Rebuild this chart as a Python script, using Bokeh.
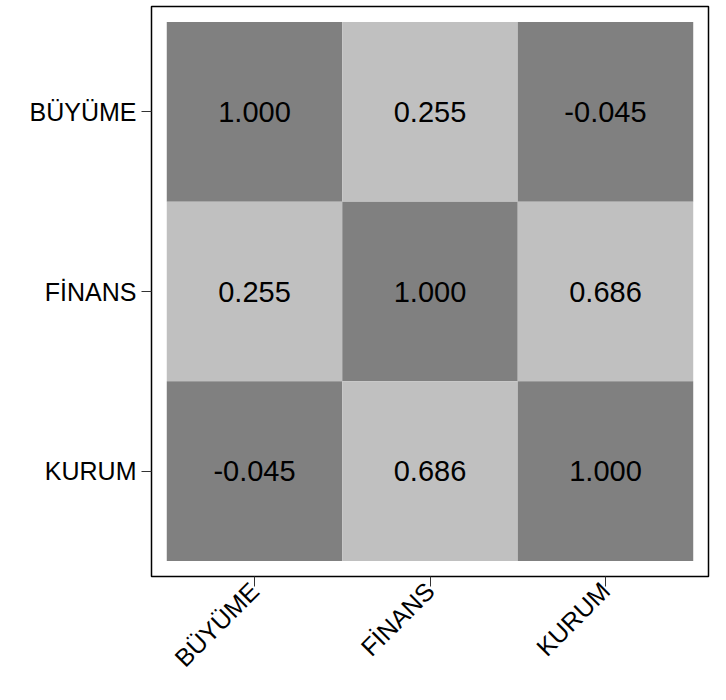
import math
from bokeh.plotting import figure
from bokeh.models import ColumnDataSource, FactorRange
from bokeh.core.properties import value
from bokeh.embed import file_html
from bokeh.resources import INLINE

# ---- data ----
variables = ["BÜYÜME", "FİNANS", "KURUM"]
row_buyume = [1.000, 0.255, -0.045]
row_finans = [0.255, 1.000, 0.686]
row_kurum = [-0.045, 0.686, 1.000]
matrix = [row_buyume, row_finans, row_kurum]

dark = "#808080"
light = "#C0C0C0"

xs, ys, vals, labels, colors = [], [], [], [], []
for i, rname in enumerate(variables):
    for j, cname in enumerate(variables):
        v = matrix[i][j]
        xs.append(cname)
        ys.append(rname)
        vals.append(v)
        labels.append(f"{v:.3f}")
        colors.append(dark if (v < 0 or v >= 1) else light)

src = ColumnDataSource(dict(x=xs, y=ys, v=vals, label=labels, color=colors))

font = "Liberation Sans"

p = figure(
    width=710, height=684,
    x_range=FactorRange(factors=variables, range_padding=0.058),
    y_range=FactorRange(factors=list(reversed(variables)), range_padding=0.058),
    output_backend="svg", toolbar_location=None,
    min_border_left=151, min_border_top=6, min_border_right=2, min_border_bottom=80,
)

p.rect(x="x", y="y", width=1, height=1, source=src,
       fill_color="color", line_color=None)

p.text(x="x", y="y", text="label", source=src,
       text_align="center", text_baseline="middle",
       text_font=value(font), text_font_size="29px", text_color="black")

p.grid.visible = False
p.outline_line_color = "black"
p.outline_line_width = 1.5
p.background_fill_color = "white"
p.border_fill_color = "white"

for ax in (p.xaxis[0], p.yaxis[0]):
    ax.axis_line_color = None
    ax.major_tick_out = 10
    ax.major_tick_in = 0
    ax.major_tick_line_color = "#333333"
    ax.major_tick_line_width = 1
    ax.minor_tick_line_color = None
    ax.major_label_text_font = font
    ax.major_label_text_font_size = "25px"
    ax.major_label_text_color = "black"

p.yaxis.major_label_standoff = 5
p.xaxis.major_label_standoff = 0
p.xaxis.major_label_orientation = math.pi / 4

open("out.html", "w").write(file_html(p, INLINE))
